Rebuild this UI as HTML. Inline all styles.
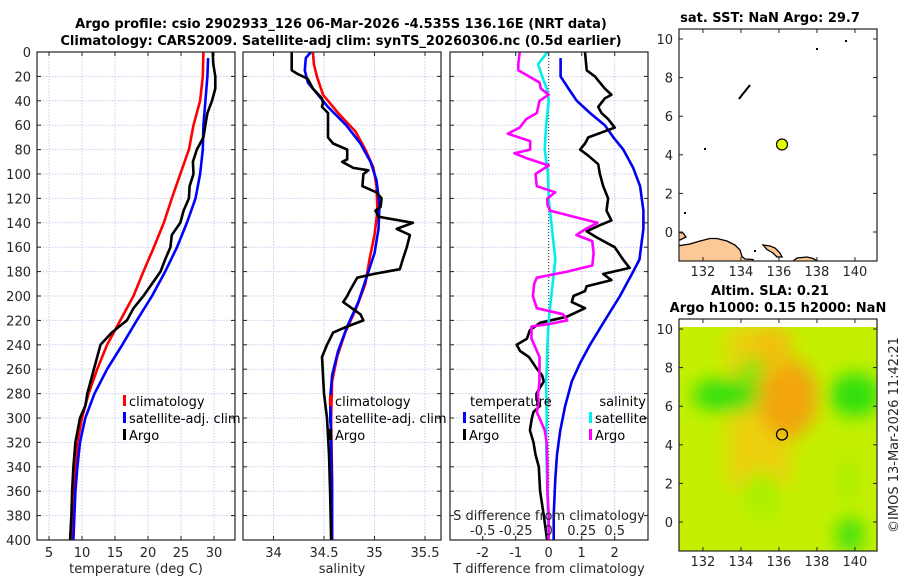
<!DOCTYPE html>
<html><head><meta charset="utf-8">
<style>
html,body{margin:0;padding:0;background:#fff;}
svg{display:block;font-family:"DejaVu Sans","Liberation Sans",sans-serif;}
.tk{font-size:13px;fill:#262626;}
.ttl{font-size:13px;font-weight:bold;fill:#000;}
.lg{font-size:13px;fill:#000;}
</style></head>
<body>
<svg id="fig" width="900" height="580" viewBox="0 0 900 580">
<defs>
<clipPath id="c1"><rect x="37" y="52" width="198" height="488"/></clipPath>
<clipPath id="c2"><rect x="243" y="52" width="198" height="488"/></clipPath>
<clipPath id="c3"><rect x="450" y="52" width="198" height="488"/></clipPath>
<clipPath id="cm1"><rect x="679" y="29" width="198" height="232"/></clipPath>
<clipPath id="cm2"><rect x="679" y="319" width="198" height="232"/></clipPath>
<filter id="blur" x="-20%" y="-20%" width="140%" height="140%"><feGaussianBlur stdDeviation="9"/></filter>
</defs>
<text class="ttl" x="341" y="28" text-anchor="middle">Argo profile: csio 2902933_126 06-Mar-2026 -4.535S 136.16E (NRT data)</text>
<text class="ttl" x="341" y="45" text-anchor="middle">Climatology: CARS2009. Satellite-adj clim: synTS_20260306.nc (0.5d earlier)</text>
<g id="g1"></g>
<g id="g2"></g>
<g id="g3"></g>
<g id="m1"></g>
<g id="m2"></g>
<text class="tk" transform="translate(898,435) rotate(-90)" text-anchor="middle">©IMOS 13-Mar-2026 11:42:21</text>
</svg>
<script>
// ---- data ----
const depthTicks=[0,20,40,60,80,100,120,140,160,180,200,220,240,260,280,300,320,340,360,380,400];
const tempTicks=[5,10,15,20,25,30];
const salTicks=[34,34.5,35,35.5];
const dTTicks=[-2,-1,0,1,2];
const dTLabels=["-2","-1","0","1","2"];
const dSTicks=[-0.5,-0.25,0,0.25,0.5];
const dSLabels=["-0.5","-0.25","0","0.25","0.5"];

const argoTD=[0,10,20,30,40,50,60,70,80,90,100,110,120,130,140,150,160,170,180,190,200,210,220,230,240,250,260,270,280,290,300,320,340,360,380,400];
const argoT=[29.8,29.9,30.2,30.2,29.7,29.0,28.7,28.4,27.4,26.8,26.9,26.3,26.2,25.4,24.9,23.6,23.4,22.6,21.9,20.6,19.3,17.8,16.8,14.5,12.8,12.3,11.8,11.3,10.8,10.5,9.7,9.0,8.7,8.5,8.4,8.2];
const climTD=[0,20,40,60,80,100,120,140,160,180,200,220,240,260,280,300,320,340,360,400];
const climT=[28.4,28.3,27.9,26.9,26.2,24.9,23.6,22.4,20.9,19.3,17.8,15.8,13.8,12.3,11.0,10.0,9.3,9.0,8.8,8.5];
const satTD=[5,20,40,60,80,100,120,140,160,180,200,220,240,260,280,300,320,340,360,400];
const satT=[29.1,29.0,28.7,28.4,28.3,27.9,27.2,25.9,24.4,22.6,20.6,18.3,16.1,13.8,11.9,10.5,9.7,9.3,9.0,8.7];

const argoSD=[0,15,18,22,30,38,42,45,50,55,70,75,80,88,90,95,97,100,110,115,120,127,130,135,140,145,150,160,170,178,182,185,195,200,205,215,220,225,230,240,250,265,280,300,330,360,400];
const argoS=[34.18,34.18,34.24,34.34,34.39,34.48,34.49,34.48,34.54,34.54,34.54,34.59,34.73,34.73,34.68,34.79,34.94,34.89,34.88,35.02,35.07,35.06,35.01,35.04,35.38,35.22,35.35,35.32,35.28,35.25,34.99,34.83,34.76,34.73,34.69,34.86,34.89,34.73,34.59,34.53,34.48,34.49,34.5,34.53,34.55,34.56,34.57];
const climSD=[0,10,20,35,50,65,80,95,110,130,150,170,190,210,230,250,270,300,350,400];
const climS=[34.39,34.40,34.43,34.49,34.64,34.81,34.91,34.99,35.02,35.03,35.0,34.95,34.91,34.82,34.71,34.63,34.58,34.57,34.58,34.58];
const satSD=[0,5,15,25,35,45,60,75,90,105,125,145,165,185,205,225,245,265,285,320,360,400];
const satS=[34.37,34.32,34.31,34.34,34.44,34.54,34.72,34.86,34.96,35.02,35.05,35.04,35.0,34.92,34.84,34.73,34.64,34.58,34.56,34.57,34.58,34.58];

const satDTD=[5,20,30,40,50,60,70,80,95,110,130,145,155,170,180,190,200,220,240,255,270,290,310,330,350,380,400];
const satDT=[0.36,0.36,0.6,0.85,1.25,1.7,1.96,2.26,2.56,2.77,2.87,2.87,2.82,2.75,2.56,2.36,2.16,1.7,1.25,0.95,0.7,0.5,0.35,0.25,0.2,0.15,0.15];
const argoDTD=[0,15,20,30,35,38,45,50,55,62,65,70,75,80,85,92,100,110,120,130,138,142,147,152,160,170,177,182,187,192,196,200,205,210,217,222,228,235,240,245,250,260,265,270,275,280,285,290,295,300,310,320,330,340,360,380,400];
const argoDT=[1.1,1.15,1.4,1.7,1.9,1.7,1.5,1.6,1.8,2.0,1.7,1.2,1.1,0.95,1.2,1.5,1.55,1.65,1.8,1.75,1.9,1.55,1.15,1.45,2.0,2.25,2.45,1.65,1.9,1.15,1.1,0.75,0.7,1.1,0.55,-0.26,-0.57,-0.66,-0.97,-0.87,-0.6,-0.35,-0.2,-0.15,-0.26,-0.37,-0.37,-0.26,-0.46,-0.51,-0.57,-0.46,-0.4,-0.3,-0.26,-0.15,-0.05];
const satDSD=[0,10,20,30,40,60,80,100,120,140,160,170,180,200,220,240,260,270,300,320,340,360,400];
const satDS=[-0.01,-0.08,-0.05,-0.015,0,-0.02,-0.03,-0.005,0,0.02,0.04,0.05,0.04,0.02,0,-0.01,-0.015,-0.02,-0.015,-0.02,-0.015,-0.01,0];
const argoDSD=[0,10,15,20,25,30,35,40,50,55,62,67,73,80,83,87,93,100,110,115,120,125,130,135,140,145,150,155,165,175,180,185,190,200,210,215,220,223,225,235,240,250,265,270,280,290,295,300,310,320,340,360,380,400];
const argoDS=[-0.22,-0.23,-0.23,-0.15,-0.07,-0.06,0,-0.07,-0.09,-0.17,-0.22,-0.31,-0.14,-0.14,-0.26,-0.17,0,-0.10,-0.09,0.05,-0.01,-0.01,0.01,0.19,0.37,0.28,0.21,0.33,0.34,0.33,0.14,-0.09,-0.11,-0.12,-0.09,0.11,0.14,0,-0.13,-0.13,-0.11,-0.07,-0.07,-0.07,-0.08,-0.08,-0.09,-0.07,-0.03,-0.015,-0.01,-0.01,0,0];

const argoLon=136.16, argoLat=4.535;
const lonTicks=[132,134,136,138,140];
const latTicks=[0,2,4,6,8,10];

// ---- scales ----
const yD=d=>52+d*1.22;
const xT=t=>49+(t-5)*6.6;
const xS=s=>324+(s-34.5)*101;
const xDT=t=>548.7+t*33;
const xDS=s=>548.7+s*132;
const lonX=l=>679+(l-130.74)*19;
const latY=(l,off)=>39+off+(10-l)*19.3;

const NS='http://www.w3.org/2000/svg';
function mk(tag,attrs,parent){const e=document.createElementNS(NS,tag);for(const k in attrs)e.setAttribute(k,attrs[k]);parent.appendChild(e);return e;}
function txt(s,attrs,parent){const e=mk('text',attrs,parent);e.textContent=s;return e;}

function panel(g,x0,xticks,xfun,xlabels,showY,xtitle){
  mk('rect',{x:x0,y:52,width:198,height:488,fill:'#fff'},g);
  depthTicks.forEach(d=>{
    if(d>0&&d<400){const l=mk('line',{x1:x0,x2:x0+198,y1:yD(d),y2:yD(d),stroke:'#c6cdea','stroke-width':1,'stroke-dasharray':'1.5,1.5'},g);
    
    }
    mk('line',{x1:x0,x2:x0+4,y1:yD(d),y2:yD(d),stroke:'#222'},g);
    mk('line',{x1:x0+194,x2:x0+198,y1:yD(d),y2:yD(d),stroke:'#222'},g);
    if(showY){const t=txt(String(d),{x:x0-6,y:yD(d)+5,'text-anchor':'end',class:'tk'},g);
      
      }
  });
  xticks.forEach((v,i)=>{
    const X=xfun(v);
    mk('line',{x1:X,x2:X,y1:52,y2:540,stroke:'#c6cdea','stroke-width':1,'stroke-dasharray':'1.5,1.5'},g);
    mk('line',{x1:X,x2:X,y1:540,y2:536,stroke:'#222'},g);
    mk('line',{x1:X,x2:X,y1:52,y2:56,stroke:'#222'},g);
    const t=txt(xlabels[i],{x:X,y:557,'text-anchor':'middle',class:'tk'},g);
    
    
  });
  const tt=txt(xtitle,{x:x0+99,y:573,'text-anchor':'middle',class:'tk'},g);
  
  
}
function series(g,clip,xs,ds,xfun,color,name){
  const p=xs.map((v,i)=>(i?'L':'M')+xfun(v).toFixed(1)+','+yD(ds[i]).toFixed(1)).join('');
  const e=mk('path',{d:p,fill:'none',stroke:color,'stroke-width':2.6,'stroke-linejoin':'round','clip-path':'url(#'+clip+')'},g);
  
  
}
function frame(g,x0){mk('rect',{x:x0,y:52,width:198,height:488,fill:'none',stroke:'#222','stroke-width':1.2},g);}
function legend(g,x,y,color,label,name){
  mk('rect',{x:x,y:y-11,width:3,height:11,fill:color},g);
  const t=txt(label,{x:x+6,y:y,class:'lg'},g);
  
  
}

// panel 1
const g1=document.getElementById('g1');
panel(g1,37,tempTicks,xT,tempTicks.map(String),true,'temperature (deg C)');
series(g1,'c1',climT,climTD,xT,'#ff0000','climatology-temp-line');
series(g1,'c1',satT,satTD,xT,'#0000ff','satellite-temp-line');
series(g1,'c1',argoT,argoTD,xT,'#000','argo-temp-line');
frame(g1,37);
legend(g1,123,406,'#f00','climatology','legend-climatology');
legend(g1,123,423,'#00f','satellite-adj. clim','legend-satellite');
legend(g1,123,440,'#000','Argo','legend-argo');

// panel 2
const g2=document.getElementById('g2');
panel(g2,243,salTicks,xS,salTicks.map(String),false,'salinity');
series(g2,'c2',climS,climSD,xS,'#ff0000','climatology-sal-line');
series(g2,'c2',satS,satSD,xS,'#0000ff','satellite-sal-line');
series(g2,'c2',argoS,argoSD,xS,'#000','argo-sal-line');
frame(g2,243);
legend(g2,329,406,'#f00','climatology','legend-climatology-sal');
legend(g2,329,423,'#00f','satellite-adj. clim','legend-satellite-sal');
legend(g2,329,440,'#000','Argo','legend-argo-sal');

// panel 3
const g3=document.getElementById('g3');
panel(g3,450,dTTicks,xDT,dTLabels,false,'T difference from climatology');
mk('line',{x1:xDT(0),x2:xDT(0),y1:52,y2:540,stroke:'#333','stroke-width':1,'stroke-dasharray':'1,2'},g3);
series(g3,'c3',satDT,satDTD,xDT,'#0000ee','satellite-dT-line');
series(g3,'c3',argoDT,argoDTD,xDT,'#000','argo-dT-line');
series(g3,'c3',satDS,satDSD,xDS,'#00eeee','satellite-dS-line');
series(g3,'c3',argoDS,argoDSD,xDS,'#ff00ff','argo-dS-line');
frame(g3,450);
const lt=txt('temperature',{x:470,y:406,class:'lg'},g3);


const ls=txt('salinity',{x:646,y:406,'text-anchor':'end',class:'lg'},g3);


legend(g3,463,423,'#00f','satellite','legend-temp-satellite');
legend(g3,463,440,'#000','Argo','legend-temp-argo');
legend(g3,589,423,'#0ee','satellite','legend-sal-satellite');
legend(g3,589,440,'#f0f','Argo','legend-sal-argo');
const st=txt('S difference from climatology',{x:549,y:520,'text-anchor':'middle',class:'tk'},g3);


dSTicks.forEach((v,i)=>{
  const t=txt(dSLabels[i],{x:xDS(v),y:535,'text-anchor':'middle',class:'tk'},g3);
  
  
});

// maps
function mapAxes(g,off){
  lonTicks.forEach(l=>{
    const X=lonX(l);
    mk('line',{x1:X,x2:X,y1:29+off,y2:33+off,stroke:'#222'},g);
    mk('line',{x1:X,x2:X,y1:261+off,y2:257+off,stroke:'#222'},g);
    const t=txt(String(l),{x:X,y:276+off,'text-anchor':'middle',class:'tk'},g);
    
    
  });
  latTicks.forEach(l=>{
    const Y=latY(l,off);
    mk('line',{x1:679,x2:683,y1:Y,y2:Y,stroke:'#222'},g);
    mk('line',{x1:873,x2:877,y1:Y,y2:Y,stroke:'#222'},g);
    const t=txt(String(l),{x:673,y:Y+5,'text-anchor':'end',class:'tk'},g);
    
    
  });
}
function land(g,off,clip){
  const lg=mk('g',{'clip-path':'url(#'+clip+')',transform:'translate(0,'+off+')'},g);
  const polys=[
   '677,262 677,246 690,244 700,241 710,238.5 717,238.5 727,241 735,245 740,250 742,256.5 745,259 753,259.5 754,262',
   '677,232 683,233 686,237 680,240 677,240',
   '763,245 770,246 775,248 780,253 782,257 777,257 773,253 767,249.5',
   '792,262 797,258 807,257 813,258.5 820,262'];
  polys.forEach(p=>{const e=mk('polygon',{points:p,fill:'#fcc996',stroke:'#000','stroke-width':1.3},lg);
    
    });
  mk('polyline',{points:'739,99 742,95 746,90 750,85',fill:'none',stroke:'#000','stroke-width':2},lg);
  [[816,48],[845,40],[704,148],[684,212],[754,250]].forEach(p=>mk('rect',{x:p[0],y:p[1],width:2,height:2,fill:'#000'},lg));
}
const m1=document.getElementById('m1');
mk('rect',{x:679,y:29,width:198,height:232,fill:'#fff'},m1);
land(m1,0,'cm1');
const c1=mk('circle',{cx:lonX(argoLon),cy:latY(argoLat,0),r:5.5,fill:'#e2ff00',stroke:'#000','stroke-width':1.2},m1);


mk('rect',{x:679,y:29,width:198,height:232,fill:'none',stroke:'#222','stroke-width':1.2},m1);
mapAxes(m1,0);
const t1=txt('sat. SST: NaN Argo: 29.7',{x:770,y:22,'text-anchor':'middle',class:'ttl'},m1);



const m2=document.getElementById('m2');
const hg=mk('g',{'clip-path':'url(#cm2)'},m2);
mk('rect',{x:679,y:319,width:198,height:232,fill:'#fff'},hg);
mk('rect',{x:679,y:327,width:198,height:224,fill:'#c4f000'},hg);
const bg=mk('g',{filter:'url(#blur)'},hg);
mk('rect',{x:728,y:327,width:62,height:160,fill:'#ecd010'},bg);
mk('ellipse',{cx:788,cy:398,rx:30,ry:40,fill:'#f2a40a'},bg);
mk('ellipse',{cx:772,cy:350,rx:20,ry:25,fill:'#f0c010'},bg);
mk('ellipse',{cx:726,cy:395,rx:34,ry:17,fill:'#30e010'},bg);
mk('ellipse',{cx:855,cy:395,rx:26,ry:22,fill:'#30e010'},bg);
mk('ellipse',{cx:752,cy:370,rx:12,ry:12,fill:'#70e810'},bg);
mk('ellipse',{cx:850,cy:535,rx:14,ry:18,fill:'#40e010'},bg);
mk('ellipse',{cx:762,cy:495,rx:18,ry:24,fill:'#a8f000'},bg);
mk('ellipse',{cx:848,cy:480,rx:8,ry:22,fill:'#a0ee00'},bg);
mk('rect',{x:679,y:319,width:198,height:8,fill:'#fff'},hg);
land(m2,290,'cm2');
const c2=mk('circle',{cx:lonX(argoLon),cy:latY(argoLat,290),r:5.5,fill:'none',stroke:'#000','stroke-width':1.3},m2);


mk('rect',{x:679,y:319,width:198,height:232,fill:'none',stroke:'#222','stroke-width':1.2},m2);
mapAxes(m2,290);
const t2=txt('Altim. SLA: 0.21',{x:770,y:295,'text-anchor':'middle',class:'ttl'},m2);


const t3=txt('Argo h1000: 0.15 h2000: NaN',{x:778,y:312,'text-anchor':'middle',class:'ttl'},m2);


</script>
</body></html>
